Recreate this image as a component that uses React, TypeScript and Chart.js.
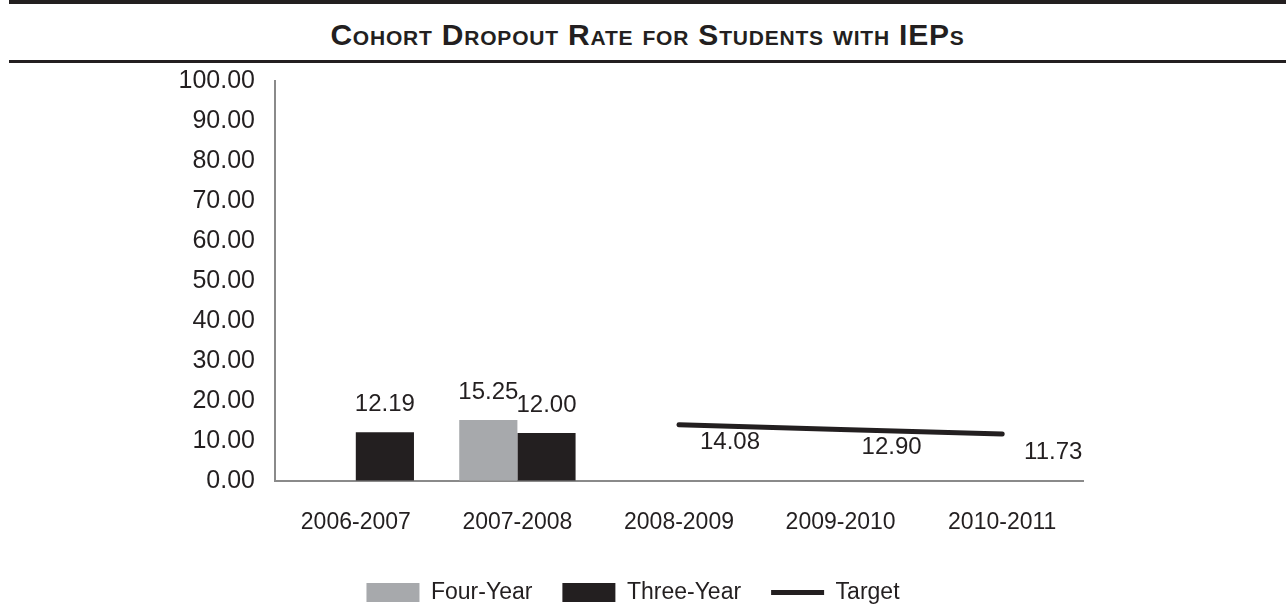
import React, { useEffect, useRef } from "react";
import { Chart, registerables } from "chart.js";

Chart.register(...registerables);

const categories = ["2006-2007", "2007-2008", "2008-2009", "2009-2010", "2010-2011"];
const fourYear = [null, 15.25, null, null, null];
const threeYear = [12.19, 12.0, null, null, null];
const target = [null, null, 14.08, 12.9, 11.73];
const yTicks = [0, 10, 20, 30, 40, 50, 60, 70, 80, 90, 100];

const FONT = "'Liberation Sans', Arial, Helvetica, sans-serif";
const TEXT = "#231f20";
const DARK = "#231f20";
const GREY_BAR = "#a7a9ac";
const AXIS = "#8a8a8a";

const valueLabels = {
  id: "valueLabels",
  afterDatasetsDraw(chart: any) {
    const ctx = chart.ctx;
    ctx.save();
    ctx.font = `24px ${FONT}`;
    ctx.fillStyle = TEXT;
    ctx.textAlign = "center";
    ctx.textBaseline = "middle";
    chart.data.datasets.forEach((ds: any, di: number) => {
      const meta = chart.getDatasetMeta(di);
      meta.data.forEach((el: any, i: number) => {
        const v = ds.data[i];
        if (v == null) return;
        const txt = Number(v).toFixed(2);
        if (meta.type === "bar") ctx.fillText(txt, el.x, el.y - 28);
        else ctx.fillText(txt, el.x + 51, el.y + 18);
      });
    });
    ctx.restore();
  },
};

export default function App() {
  const ref = useRef<HTMLCanvasElement | null>(null);

  useEffect(() => {
    if (!ref.current) return;
    const chart = new Chart(ref.current, {
      type: "bar",
      data: {
        labels: categories,
        datasets: [
          {
            label: "Four-Year",
            data: fourYear as any,
            backgroundColor: GREY_BAR,
            categoryPercentage: 0.72,
            barPercentage: 1,
          },
          {
            label: "Three-Year",
            data: threeYear as any,
            backgroundColor: DARK,
            categoryPercentage: 0.72,
            barPercentage: 1,
          },
          {
            type: "line",
            label: "Target",
            data: target as any,
            borderColor: DARK,
            backgroundColor: DARK,
            borderWidth: 5,
            borderCapStyle: "round",
            pointRadius: 0,
            tension: 0,
            fill: false,
          } as any,
        ],
      },
      options: {
        animation: false,
        responsive: false,
        maintainAspectRatio: false,
        layout: { padding: { top: 2, left: 0, right: 20, bottom: 0 } },
        font: { family: FONT, size: 23 } as any,
        color: TEXT,
        scales: {
          x: {
            afterFit: (s: any) => {
              s.height = 70;
            },
            grid: { display: true, drawOnChartArea: false, drawTicks: false },
            border: { display: true, color: AXIS, width: 2 },
            ticks: {
              color: TEXT,
              font: { family: FONT, size: 23 },
              padding: 28,
              maxRotation: 0,
            },
          },
          y: {
            min: 0,
            max: 100,
            afterBuildTicks: (s: any) => {
              s.ticks = yTicks.map((v) => ({ value: v }));
            },
            afterFit: (s: any) => {
              s.width = 275;
            },
            grid: { display: true, drawOnChartArea: false, drawTicks: false },
            border: { display: true, color: AXIS, width: 2 },
            ticks: {
              color: TEXT,
              font: { family: FONT, size: 25 },
              padding: 20,
              callback: (v: any) => Number(v).toFixed(2),
            },
          },
          y2: {
            position: "right",
            display: true,
            afterFit: (s: any) => {
              s.width = 183;
            },
            grid: { display: false, drawTicks: false },
            border: { display: false },
            ticks: { display: false },
          },
        },
        plugins: {
          title: { display: false },
          tooltip: { enabled: false },
          legend: {
            display: true,
            position: "bottom",
            labels: {
              color: TEXT,
              font: { family: FONT, size: 23 },
              usePointStyle: true,
              pointStyleWidth: 53,
              boxHeight: 19,
              padding: 30,
              generateLabels: (chart: any) => {
                const items = (Chart.defaults.plugins.legend.labels as any).generateLabels(chart);
                items.forEach((it: any, i: number) => {
                  if (i === 2) {
                    it.pointStyle = "line";
                    it.lineWidth = 5;
                    it.strokeStyle = DARK;
                  } else {
                    it.pointStyle = "rect";
                    it.lineWidth = 0;
                  }
                });
                return items;
              },
            },
          },
        },
      },
      plugins: [valueLabels],
    });
    return () => chart.destroy();
  }, []);

  return (
    <div
      style={{
        position: "fixed",
        left: 0,
        top: 0,
        width: 1286,
        height: 608,
        background: "#ffffff",
        overflow: "hidden",
      }}
    >
      <div
        style={{
          position: "absolute",
          left: 9,
          right: 0,
          top: 0,
          height: 4,
          background: DARK,
        }}
      />
      <div
        style={{
          position: "absolute",
          left: 9,
          right: 0,
          top: 20,
          textAlign: "center",
          fontFamily: FONT,
          fontWeight: "bold",
          fontSize: 30,
          lineHeight: "30px",
          letterSpacing: "0.8px",
          fontVariant: "small-caps",
          color: DARK,
          whiteSpace: "nowrap",
        }}
      >
        Cohort Dropout Rate for Students with IEPs
      </div>
      <div
        style={{
          position: "absolute",
          left: 9,
          right: 0,
          top: 60,
          height: 3,
          background: DARK,
        }}
      />
      <canvas
        ref={ref}
        width={1286}
        height={568}
        style={{ position: "absolute", left: 0, top: 46, width: 1286, height: 568 }}
      />
    </div>
  );
}
